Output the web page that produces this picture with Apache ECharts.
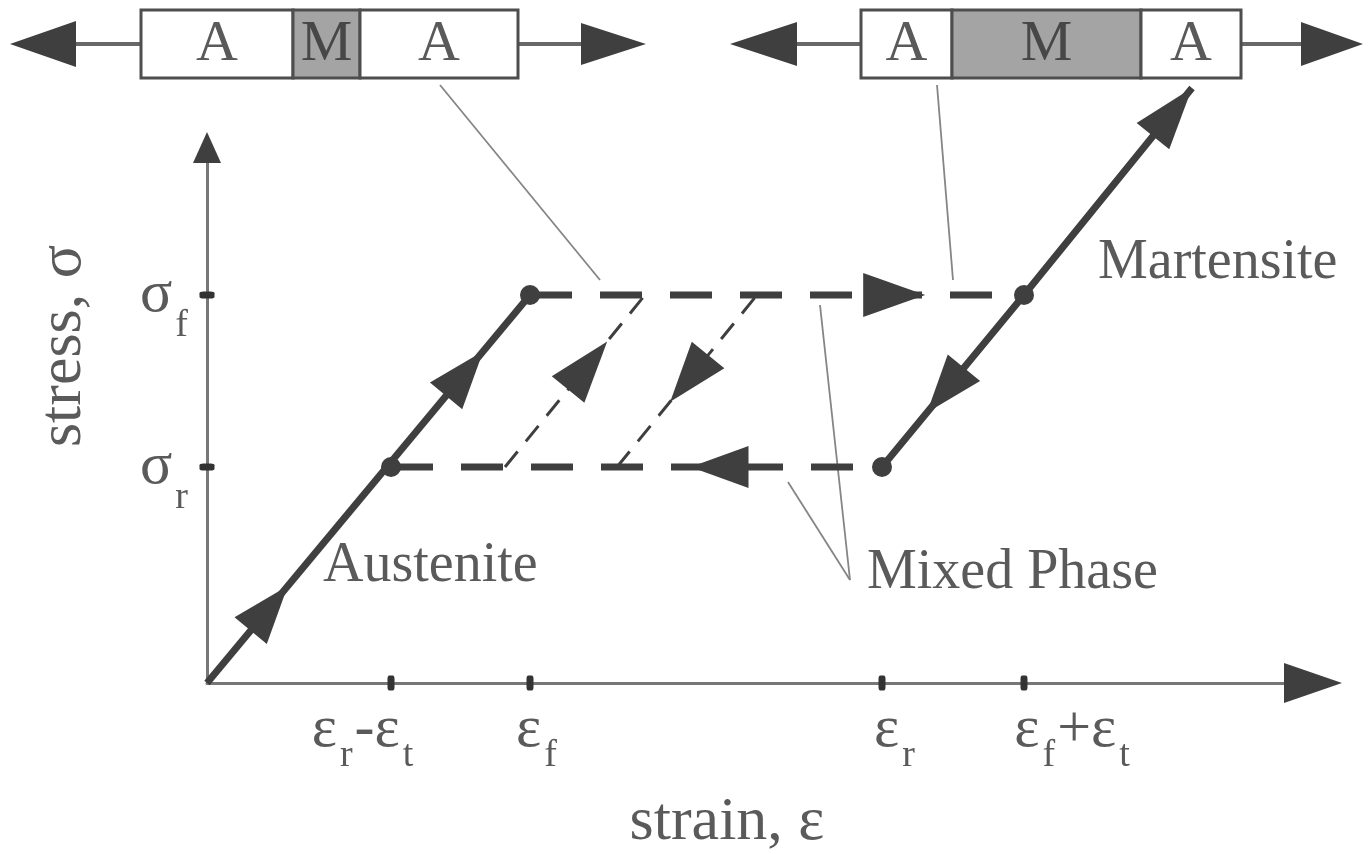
<!DOCTYPE html>
<html><head><meta charset="utf-8">
<script src="https://cdn.jsdelivr.net/npm/echarts@6/dist/echarts.min.js"></script>
<style>html,body{margin:0;padding:0;background:#fff}#c{width:1370px;height:854px}</style>
</head><body><div id="c"></div>
<script>
const SERIF = '"Liberation Serif", "DejaVu Serif", serif';
const DARK = '#3f3f3f';
const TEXT = '#5a5a5a';

// ---- tick values and labels (strain / stress, arbitrary units) ----
const xTickValues = [1.84, 3.23, 6.75, 8.17];
const xTickLabels = ['{m|ε}{s|r}{m|-ε}{sR|t}', '{mA|ε}{s|f}', '{mB|ε}{s|r}', '{mC|ε}{s|f}{m|+ε}{s|t}'];
const yTickValues = [2.16, 3.88];
const yTickLabels = ['{m|σ}{s|r}', '{m|σ}{s|f}'];

// ---- stress-strain paths ----
const austenite = [[0, 0], [3.23, 3.88]];
const martensite = [[6.75, 2.16], [8.17, 3.88], [9.85, 5.95]];
const forwardPlateau = [[3.23, 3.88], [8.17, 3.88]];
const reversePlateau = [[1.84, 2.16], [6.75, 2.16]];
const partialLoad = [[2.98, 2.16], [4.38, 3.88]];
const partialUnload = [[4.10, 2.16], [5.50, 3.88]];
const transitionPoints = [[1.84, 2.16], [3.23, 3.88], [6.75, 2.16], [8.17, 3.88]];

// ---- arrowheads: [fromX, fromY, toX, toY, fraction along from->to, length px, half width px] ----
const arrowHeads = [
  [0, 0, 3.23, 3.88, 0.25, 58, 21],
  [0, 0, 3.23, 3.88, 0.855, 58, 21],
  [3.23, 3.88, 8.17, 3.88, 0.80, 62, 22],
  [6.75, 2.16, 1.84, 2.16, 0.39, 58, 21],
  [2.98, 2.16, 4.38, 3.88, 0.73, 62, 21],
  [5.50, 3.88, 4.10, 2.16, 0.62, 60, 21],
  [8.17, 3.88, 6.75, 2.16, 0.683, 58, 21],
  [8.17, 3.88, 9.85, 5.95, 1, 62, 21],
  [10.0, 0, 11.35, 0, 1, 58, 20],
  [0, 5.0, 0, 5.51, 1, 31, 14],
  [-0.66, 6.39, -1.97, 6.39, 1, 66, 23],
  [3.11, 6.39, 4.39, 6.39, 1, 65, 21],
  [6.54, 6.39, 5.23, 6.39, 1, 67, 22],
  [10.34, 6.39, 11.56, 6.39, 1, 62, 22]
];

// ---- phase bars (A = austenite, M = martensite) ----
const barTop = 6.73, barBottom = 6.05;
const barSegStart = [-0.66, 0.86, 1.53, 6.54, 7.45, 9.34];
const barSegEnd = [0.86, 1.53, 3.11, 7.45, 9.34, 10.34];
const barSegPhase = ['A', 'M', 'A', 'A', 'M', 'A'];
const barStems = [[-1.40, 6.39, -0.66, 6.39], [3.11, 6.39, 3.80, 6.39], [5.85, 6.39, 6.54, 6.39], [10.34, 6.39, 11.0, 6.39]];

// ---- thin leader lines and annotation labels ----
const leaderLines = [[2.33, 5.98, 3.93, 4.03], [7.30, 5.98, 7.46, 4.03], [6.43, 1.03, 5.81, 2.01], [6.43, 1.03, 6.13, 3.78]];
const phaseNames = ['Austenite', 'Martensite', 'Mixed Phase'];
const phaseNameX = [1.16, 8.91, 6.60];
const phaseNameY = [1.17, 4.20, 1.10];

function lookup(values, labels, v) {
  for (let i = 0; i < values.length; i++) if (Math.abs(values[i] - v) < 1e-6) return labels[i];
  return '';
}
const subStyle = (pad) => ({ fontSize: 38, fontFamily: SERIF, color: TEXT, padding: pad });
const mainStyle = (pad) => ({ fontSize: 60, fontFamily: SERIF, color: TEXT, padding: pad });

function lineSeries(data, width, type) {
  return { type: 'line', data: data, symbol: 'none', clip: false, silent: true, z: 3,
    lineStyle: { color: DARK, width: width, type: type, cap: 'butt', opacity: 1 } };
}

const option = {
  animation: false,
  backgroundColor: '#ffffff',
  grid: { left: 207, right: 63, top: 153, bottom: 171, containLabel: false, outerBoundsMode: 'none' },
  xAxis: {
    type: 'value', min: 0, max: 11,
    name: 'strain, ε', nameLocation: 'middle', nameGap: 109,
    nameTextStyle: { fontFamily: SERIF, fontSize: 62, color: TEXT, padding: [0, 60, 0, 0] },
    axisLine: { show: true, onZero: false, lineStyle: { color: '#777777', width: 3 } },
    axisTick: { show: false }, splitLine: { show: false },
    axisLabel: {
      customValues: xTickValues, margin: 2,
      formatter: (v) => lookup(xTickValues, xTickLabels, v),
      rich: { m: mainStyle([0, 0, 0, 0]), mA: mainStyle([0, 0, 0, 15]), mB: mainStyle([0, 0, 0, 27]), mC: mainStyle([0, 0, 0, 98]),
              s: subStyle([52, 2, 0, 3]), sR: subStyle([52, 57, 0, 3]) }
    }
  },
  yAxis: {
    type: 'value', min: 0, max: 5.3,
    name: 'stress, σ', nameLocation: 'middle', nameGap: 112, nameRotate: 90,
    nameTextStyle: { fontFamily: SERIF, fontSize: 62, color: TEXT, padding: [0, 0, 0, 144] },
    axisLine: { show: true, onZero: false, lineStyle: { color: '#777777', width: 3 } },
    axisTick: { show: false }, splitLine: { show: false },
    axisLabel: {
      customValues: yTickValues, margin: 19,
      formatter: (v) => lookup(yTickValues, yTickLabels, v),
      rich: { m: mainStyle([0, 0, 0, 0]), s: subStyle([62, 0, 0, 3]) }
    }
  },
  series: [
    lineSeries(austenite, 7, 'solid'),
    lineSeries(martensite, 7, 'solid'),
    lineSeries(forwardPlateau, 7, [42, 28]),
    lineSeries(reversePlateau, 7, [42, 28]),
    lineSeries(partialLoad, 3, [20, 13]),
    lineSeries(partialUnload, 3, [20, 13]),
    { type: 'scatter', data: transitionPoints, symbol: 'circle', symbolSize: 20, silent: true, z: 5,
      itemStyle: { color: DARK, opacity: 1 } },
    { type: 'scatter', data: xTickValues.map(v => [v, 0]), symbol: 'roundRect', symbolSize: [7, 15], silent: true, z: 5,
      itemStyle: { color: '#333333', opacity: 1 } },
    { type: 'scatter', data: yTickValues.map(v => [0, v]), symbol: 'roundRect', symbolSize: [15, 7], silent: true, z: 5,
      itemStyle: { color: '#333333', opacity: 1 } },
    { type: 'custom', clip: false, silent: true, z: 2, data: leaderLines,
      renderItem: (p, api) => {
        const a = api.coord([api.value(0), api.value(1)]), b = api.coord([api.value(2), api.value(3)]);
        return { type: 'line', shape: { x1: a[0], y1: a[1], x2: b[0], y2: b[1] }, style: { stroke: '#858585', lineWidth: 1.8 } };
      } },
    { type: 'custom', clip: false, silent: true, z: 2, data: barStems,
      renderItem: (p, api) => {
        const a = api.coord([api.value(0), api.value(1)]), b = api.coord([api.value(2), api.value(3)]);
        return { type: 'line', shape: { x1: a[0], y1: a[1], x2: b[0], y2: b[1] }, style: { stroke: '#686868', lineWidth: 4 } };
      } },
    { type: 'custom', clip: false, silent: true, z: 4, data: barSegStart.map((s, i) => [s, barSegEnd[i], i]),
      renderItem: (p, api) => {
        const k = api.value(2);
        const p0 = api.coord([api.value(0), barTop]), p1 = api.coord([api.value(1), barBottom]);
        const isM = barSegPhase[k] === 'M';
        return { type: 'group', children: [
          { type: 'rect', shape: { x: p0[0], y: p0[1], width: p1[0] - p0[0], height: p1[1] - p0[1] },
            style: { fill: isM ? '#a4a4a4' : '#ffffff', stroke: '#4e4e4e', lineWidth: 3 } },
          { type: 'text', x: (p0[0] + p1[0]) / 2, y: (p0[1] + p1[1]) / 2 + 1,
            style: { text: barSegPhase[k], fill: isM ? '#474747' : TEXT, font: '58px ' + SERIF,
              align: 'center', verticalAlign: 'middle', textAlign: 'center', textVerticalAlign: 'middle' } }
        ] };
      } },
    { type: 'custom', clip: false, silent: true, z: 6, data: arrowHeads,
      renderItem: (p, api) => {
        const a = api.coord([api.value(0), api.value(1)]), b = api.coord([api.value(2), api.value(3)]);
        const t = api.value(4), L = api.value(5), W = api.value(6);
        const dx = b[0] - a[0], dy = b[1] - a[1], len = Math.hypot(dx, dy);
        const ux = dx / len, uy = dy / len, nx = -uy, ny = ux;
        const tip = [a[0] + dx * t, a[1] + dy * t];
        const base = [tip[0] - ux * L, tip[1] - uy * L];
        return { type: 'polygon', shape: { points: [tip, [base[0] + nx * W, base[1] + ny * W], [base[0] - nx * W, base[1] - ny * W]] },
          style: { fill: DARK } };
      } },
    { type: 'custom', clip: false, silent: true, z: 6, data: phaseNameX.map((x, i) => [x, phaseNameY[i], i]),
      renderItem: (p, api) => {
        const pt = api.coord([api.value(0), api.value(1)]);
        return { type: 'text', x: pt[0], y: pt[1],
          style: { text: phaseNames[api.value(2)], fill: TEXT, font: '56px ' + SERIF,
            align: 'left', verticalAlign: 'middle', textAlign: 'left', textVerticalAlign: 'middle' } };
      } }
  ]
};
const chart = echarts.init(document.getElementById('c'));
chart.setOption(option);
</script></body></html>
